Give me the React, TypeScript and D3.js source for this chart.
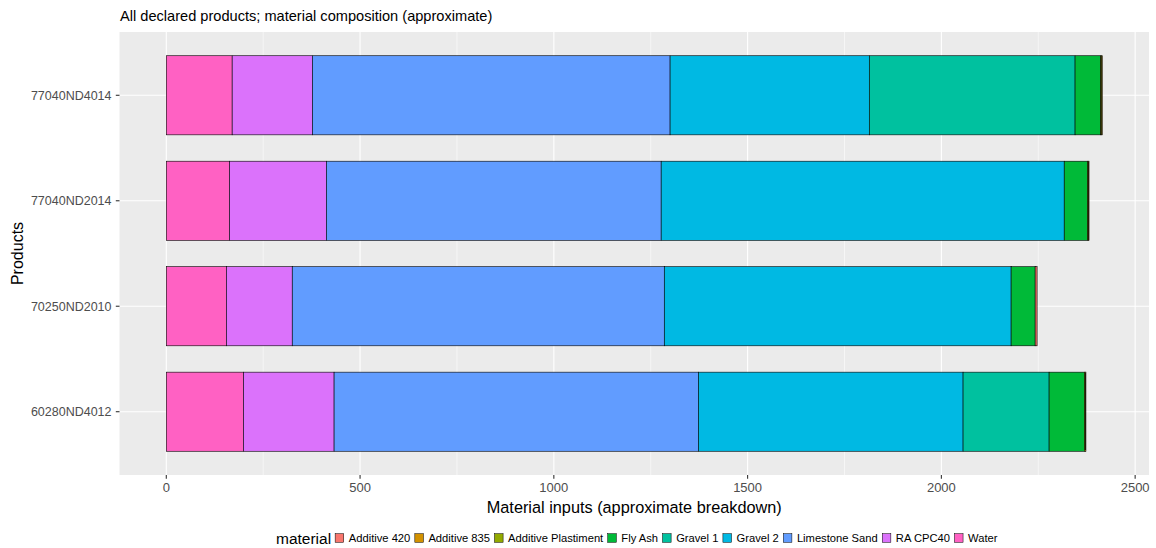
import React, { useEffect, useRef } from "react";
import * as d3 from "d3";

const products = ["77040ND4014", "77040ND2014", "70250ND2010", "60280ND4012"];
const materials = [
  "Additive 420",
  "Additive 835",
  "Additive Plastiment",
  "Fly Ash",
  "Gravel 1",
  "Gravel 2",
  "Limestone Sand",
  "RA CPC40",
  "Water",
];
const colors = ["#F8766D", "#D39200", "#93AA00", "#00BA38", "#00C19F", "#00B9E3", "#619CFF", "#DB72FB", "#FF61C3"];

// values per product, in material order above
const water = [170, 163, 155, 199];
const raCpc40 = [207, 250, 170, 234];
const limestoneSand = [923, 864, 960, 940];
const gravel2 = [514, 1040, 895, 683];
const gravel1 = [531, 0, 0, 222];
const flyAsh = [66, 60, 62, 91];
const additivePlastiment = [3, 3, 0, 3];
const additive835 = [1, 1, 0, 1];
const additive420 = [0, 0, 5, 0];

const xTicks = [0, 500, 1000, 1500, 2000, 2500];
const xMinor = [250, 750, 1250, 1750, 2250];

const valueTable: number[][] = [
  additive420,
  additive835,
  additivePlastiment,
  flyAsh,
  gravel1,
  gravel2,
  limestoneSand,
  raCpc40,
  water,
];

export default function App() {
  const ref = useRef<SVGSVGElement>(null);
  useEffect(() => {
    const svg = d3.select(ref.current);
    svg.selectAll("*").remove();
    const font = "'Liberation Sans', Arial, sans-serif";
    const pl = 119.5, pr = 1149, pt = 32, pb = 475;

    const totals = products.map((_, i) => d3.sum(valueTable, (s) => s[i]));
    const maxT = d3.max(totals)!;
    const x = d3
      .scaleLinear()
      .domain([-0.05 * maxT, maxT * 1.05])
      .range([pl, pr]);
    const yIdx = d3.scaleLinear().domain([-0.6, products.length - 1 + 0.6]).range([pt, pb]);
    const center = (i: number) => yIdx(i);
    const bh = 0.75 * (yIdx(1) - yIdx(0));

    svg.append("rect").attr("x", pl).attr("y", pt).attr("width", pr - pl).attr("height", pb - pt).attr("fill", "#EBEBEB");
    const g = svg.append("g");
    xMinor.forEach((v) => {
      g.append("line").attr("x1", x(v)).attr("x2", x(v)).attr("y1", pt).attr("y2", pb).attr("stroke", "#fff").attr("stroke-width", 0.55);
    });
    xTicks.forEach((v) => {
      g.append("line").attr("x1", x(v)).attr("x2", x(v)).attr("y1", pt).attr("y2", pb).attr("stroke", "#fff").attr("stroke-width", 1.1);
    });
    products.forEach((p, i) => {
      g.append("line").attr("x1", pl).attr("x2", pr).attr("y1", center(i)).attr("y2", center(i)).attr("stroke", "#fff").attr("stroke-width", 1.1);
    });

    // stacks: water nearest zero (last material first)
    products.forEach((p, i) => {
      let acc = 0;
      for (let m = materials.length - 1; m >= 0; m--) {
        const v = valueTable[m][i];
        if (v <= 0) continue;
        svg
          .append("rect")
          .attr("x", x(acc))
          .attr("y", center(i) - bh / 2)
          .attr("width", x(acc + v) - x(acc))
          .attr("height", bh)
          .attr("fill", colors[m])
          .attr("stroke", "#000")
          .attr("stroke-width", 0.6);
        acc += v;
      }
    });

    // axes
    xTicks.forEach((v) => {
      svg.append("line").attr("x1", x(v)).attr("x2", x(v)).attr("y1", pb).attr("y2", pb + 3.7).attr("stroke", "#333").attr("stroke-width", 1.1);
      svg
        .append("text")
        .attr("x", x(v))
        .attr("y", pb + 16.5)
        .attr("text-anchor", "middle")
        .attr("font-family", font)
        .attr("font-size", 13)
        .attr("fill", "#4D4D4D")
        .text(v);
    });
    products.forEach((p, i) => {
      svg.append("line").attr("x1", pl - 3.7).attr("x2", pl).attr("y1", center(i)).attr("y2", center(i)).attr("stroke", "#333").attr("stroke-width", 1.1);
      svg
        .append("text")
        .attr("x", pl - 8)
        .attr("y", center(i) + 4.5)
        .attr("text-anchor", "end")
        .attr("font-family", font)
        .attr("font-size", 12.5)
        .attr("fill", "#4D4D4D")
        .text(p);
    });

    svg
      .append("text")
      .attr("x", (pl + pr) / 2)
      .attr("y", 513)
      .attr("text-anchor", "middle")
      .attr("font-family", font)
      .attr("font-size", 16.3)
      .attr("fill", "#000")
      .text("Material inputs (approximate breakdown)");
    svg
      .append("text")
      .attr("transform", `translate(23,${(pt + pb) / 2}) rotate(-90)`)
      .attr("text-anchor", "middle")
      .attr("font-family", font)
      .attr("font-size", 16)
      .attr("fill", "#000")
      .text("Products");
    svg
      .append("text")
      .attr("x", 120)
      .attr("y", 21)
      .attr("font-family", font)
      .attr("font-size", 14.6)
      .attr("fill", "#000")
      .text("All declared products; material composition (approximate)");

    // legend
    const lg = svg.append("g");
    const ly = 538;
    const title = lg
      .append("text")
      .attr("x", 0)
      .attr("y", ly + 5.5)
      .attr("font-family", font)
      .attr("font-size", 15.5)
      .attr("fill", "#000")
      .text("material");
    let cx = (title.node() as SVGTextElement).getComputedTextLength() + 4;
    materials.forEach((m, i) => {
      lg.append("rect").attr("x", cx).attr("y", ly - 4.3).attr("width", 8.6).attr("height", 8.6).attr("fill", colors[i]).attr("stroke", "#000").attr("stroke-width", 0.5);
      cx += 8.6 + 5;
      const t = lg
        .append("text")
        .attr("x", cx)
        .attr("y", ly + 4)
        .attr("font-family", font)
        .attr("font-size", 11.2)
        .attr("fill", "#000")
        .text(m);
      cx += (t.node() as SVGTextElement).getComputedTextLength() + 4.5;
    });
    const totalW = cx - 4.5;
    lg.attr("transform", `translate(${276},0)`);
  }, []);
  return (
    <svg ref={ref} width={1156} height={548} style={{ position: "absolute", left: 0, top: 0, background: "#fff" }} />
  );
}
